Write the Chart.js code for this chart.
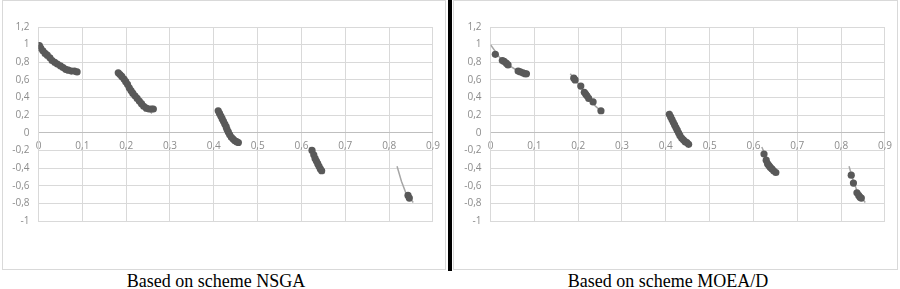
<!DOCTYPE html>
<html lang="en">
<head>
  <meta charset="UTF-8">
  <title>NSGA vs MOEA/D</title>
  <script src="https://cdn.jsdelivr.net/npm/chart.js"></script>
  <style>
    body {
      margin: 0;
      width: 900px;
      height: 289px;
      background: #fff;
      position: relative;
      overflow: hidden;
    }
    .box {
      position: absolute;
      top: 0;
      height: 270px;
      box-sizing: border-box;
      border: 1px solid #d9d9d9;
    }
    #divider {
      position: absolute;
      left: 448px;
      top: 0;
      width: 4px;
      height: 271px;
      background: #000;
    }
    canvas {
      position: absolute;
      top: 0;
    }
    .caption {
      position: absolute;
      top: 272px;
      width: 300px;
      text-align: center;
      font-family: 'Liberation Serif', 'DejaVu Serif', serif;
      font-size: 18px;
      line-height: 18px;
      color: #000;
    }
  </style>
</head>
<body>

<div class="box" style="left:2px; width:444px;"></div>
<div class="box" style="left:453px; width:445px;"></div>
<div id="divider"></div>

<canvas id="nsgaChart" width="447" height="270" style="left:0px"></canvas>
<canvas id="moeaChart" width="447" height="270" style="left:452px"></canvas>

<div class="caption" style="left:66px">Based on scheme NSGA</div>
<div class="caption" style="left:518px">Based on scheme MOEA/D</div>

<script>
  const xTicks = [0, 0.1, 0.2, 0.3, 0.4, 0.5, 0.6, 0.7, 0.8, 0.9];
  const yTicks = [-1, -0.8, -0.6, -0.4, -0.2, 0, 0.2, 0.4, 0.6, 0.8, 1, 1.2];

  // NSGA solutions
  const nsgaX = [0.002, 0.005, 0.01, 0.015, 0.02, 0.026, 0.031, 0.037, 0.043, 0.05, 0.056, 0.062, 0.068, 0.075, 0.082, 0.088,
    0.182, 0.186, 0.19, 0.195, 0.199, 0.203, 0.207, 0.211, 0.215, 0.22, 0.225, 0.23, 0.235, 0.24, 0.246, 0.252, 0.258, 0.262,
    0.41, 0.413, 0.416, 0.419, 0.422, 0.425, 0.428, 0.43, 0.433, 0.436, 0.44, 0.444, 0.448, 0.452, 0.456,
    0.624, 0.628, 0.631, 0.634, 0.637, 0.64, 0.643, 0.646,
    0.843, 0.846];
  const nsgaY = [0.99, 0.96, 0.93, 0.9, 0.88, 0.85, 0.82, 0.8, 0.78, 0.76, 0.74, 0.72, 0.71, 0.7, 0.7, 0.69,
    0.68, 0.66, 0.64, 0.61, 0.58, 0.55, 0.51, 0.48, 0.45, 0.42, 0.39, 0.36, 0.33, 0.3, 0.28, 0.27, 0.27, 0.27,
    0.25, 0.22, 0.19, 0.16, 0.13, 0.1, 0.07, 0.04, 0.01, -0.02, -0.05, -0.07, -0.09, -0.1, -0.11,
    -0.2, -0.25, -0.29, -0.32, -0.35, -0.38, -0.41, -0.43,
    -0.71, -0.74];

  // MOEA/D solutions
  const moeaX = [0.011, 0.027, 0.031, 0.036, 0.04, 0.063, 0.068, 0.074, 0.079, 0.082,
    0.19, 0.193, 0.206, 0.214, 0.217, 0.22, 0.224, 0.234, 0.252,
    0.408, 0.411, 0.414, 0.417, 0.42, 0.423, 0.426, 0.429, 0.432, 0.436, 0.44, 0.444, 0.448, 0.452,
    0.624, 0.629, 0.632, 0.635, 0.638, 0.642, 0.646, 0.651,
    0.823, 0.828, 0.836, 0.84, 0.843, 0.846];
  const moeaY = [0.89, 0.82, 0.81, 0.79, 0.77, 0.7, 0.69, 0.68, 0.67, 0.67,
    0.62, 0.6, 0.53, 0.46, 0.44, 0.42, 0.39, 0.35, 0.25,
    0.21, 0.18, 0.15, 0.12, 0.09, 0.06, 0.03, 0, -0.03, -0.06, -0.08, -0.1, -0.11, -0.13,
    -0.24, -0.31, -0.35, -0.37, -0.39, -0.41, -0.43, -0.45,
    -0.48, -0.57, -0.68, -0.71, -0.73, -0.74];

  // reference front (grey line), null = gap between segments
  const frontX = [0, 0.02, 0.04, 0.06, 0.083, null,
    0.182, 0.2, 0.22, 0.24, 0.259, null,
    0.409, 0.42, 0.43, 0.44, 0.455, null,
    0.619, 0.63, 0.64, 0.653, null,
    0.818, 0.828, 0.838, 0.855];
  const frontY = [1.0, 0.86, 0.77, 0.71, 0.67, null,
    0.67, 0.56, 0.42, 0.3, 0.22, null,
    0.25, 0.13, 0.02, -0.07, -0.14, null,
    -0.16, -0.29, -0.38, -0.46, null,
    -0.38, -0.55, -0.68, -0.79];

  const toPoints = (xs, ys) => xs.map((x, i) => ({ x: x, y: ys[i] }));
  const fmt = v => String(Math.round(v * 10) / 10).replace('.', ',');
  const tickFont = { family: "'Open Sans', sans-serif", size: 10 };

  function makeChart(id, xs, ys, rightPad) {
    const ctx = document.getElementById(id).getContext('2d');
    return new Chart(ctx, {
      type: 'scatter',
      data: {
        datasets: [{
          data: toPoints(xs, ys),
          backgroundColor: '#595959',
          borderWidth: 0,
          pointRadius: 3.6
        }, {
          data: toPoints(frontX, frontY),
          showLine: true,
          spanGaps: false,
          borderColor: '#a6a6a6',
          borderWidth: 1.5,
          pointRadius: 0
        }]
      },
      options: {
        responsive: false,
        devicePixelRatio: 1,
        animation: false,
        layout: { padding: { top: 27, bottom: 49, left: 0, right: rightPad } },
        plugins: {
          legend: { display: false },
          tooltip: { enabled: false }
        },
        scales: {
          x: {
            position: { y: 0 },
            min: 0,
            max: 0.9,
            afterBuildTicks: s => { s.ticks = xTicks.map(v => ({ value: v })); },
            ticks: {
              callback: v => fmt(v),
              color: '#8c8c8c',
              font: tickFont,
              padding: 7,
              autoSkip: false,
              maxRotation: 0
            },
            grid: { color: '#d9d9d9', drawTicks: false },
            border: { color: '#bfbfbf' }
          },
          y: {
            min: -1,
            max: 1.2,
            afterBuildTicks: s => { s.ticks = yTicks.map(v => ({ value: v })); },
            afterFit: s => { s.width = 38.5; },
            ticks: {
              callback: v => fmt(v),
              color: '#8c8c8c',
              font: tickFont,
              padding: 9
            },
            grid: { color: '#d9d9d9', drawTicks: false },
            border: { color: '#d9d9d9' }
          }
        }
      }
    });
  }

  makeChart('nsgaChart', nsgaX, nsgaY, 14);
  makeChart('moeaChart', moeaX, moeaY, 13);
</script>

</body>
</html>
